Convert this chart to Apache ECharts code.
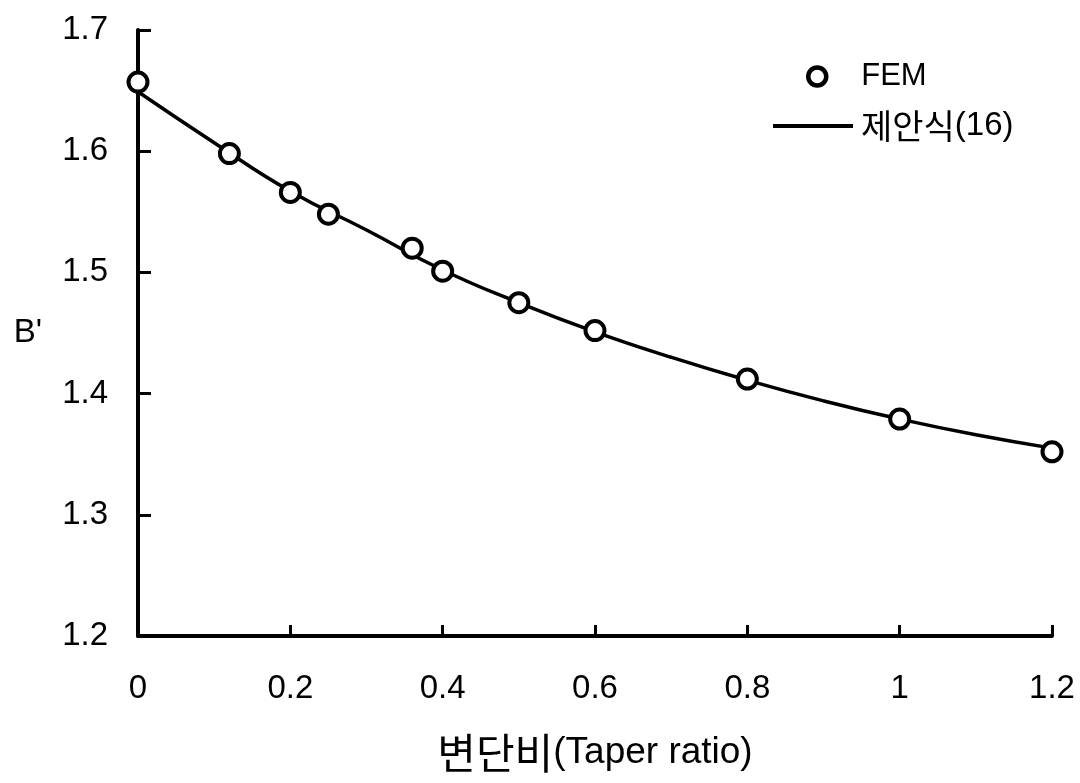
<!DOCTYPE html>
<html>
<head>
<meta charset="utf-8">
<title>B' vs Taper ratio</title>
<script src="https://cdn.jsdelivr.net/npm/echarts@6/dist/echarts.min.js"></script>
<style>
  html, body { margin: 0; padding: 0; background: #fff; }
  #main { width: 1080px; height: 783px; }
</style>
</head>
<body>
<div id="main"></div>
<script type="text/javascript">
// FEM results
var femTaper = [0, 0.12, 0.2, 0.25, 0.36, 0.4, 0.5, 0.6, 0.8, 1.0, 1.2];
var femB = [1.657, 1.598, 1.566, 1.548, 1.520, 1.501, 1.475, 1.452, 1.412, 1.379, 1.352];

// proposed equation (16), sampled along the drawn curve
var eqTaper = [0, 0.1, 0.2, 0.3, 0.4, 0.5, 0.6, 0.7, 0.8, 0.9, 1.0, 1.1, 1.2];
var eqB = [1.649, 1.607, 1.567, 1.535, 1.502, 1.475, 1.451, 1.430, 1.411, 1.394, 1.379, 1.366, 1.355];

var fontFam = "'Liberation Sans', Arial, 'Noto Sans CJK KR', sans-serif";
var krFam = "'Noto Sans CJK KR', sans-serif";

var myChart = echarts.init(document.getElementById('main'));

var option = {
  animation: false,
  backgroundColor: '#fff',
  textStyle: { fontFamily: fontFam, color: '#000' },
  grid: { left: 138, right: 28, top: 30, bottom: 147 },
  legend: [{
    data: ['FEM'],
    left: 801,
    top: 56,
    icon: 'circle',
    itemWidth: 18,
    itemHeight: 18,
    itemStyle: { color: '#fff', borderColor: '#000', borderWidth: 4.5 },
    textStyle: { fontSize: 31, fontFamily: fontFam, color: '#000', padding: [0, 0, 0, 30] }
  }, {
    data: ['제안식(16)'],
    left: 768,
    top: 104,
    icon: 'rect',
    itemWidth: 80,
    itemHeight: 4,
    itemStyle: { color: '#000', borderWidth: 0 },
    lineStyle: { width: 0 },
    formatter: function () { return '{k|제안식}{l|(16)}'; },
    textStyle: {
      color: '#000', padding: [0, 0, 0, 3],
      rich: {
        k: { fontSize: 34, fontFamily: krFam, color: '#000' },
        l: { fontSize: 33, fontFamily: fontFam, color: '#000' }
      }
    }
  }],
  xAxis: {
    type: 'value',
    min: 0,
    max: 1.2,
    interval: 0.2,
    name: '{k|변단비}{l|(Taper ratio)}',
    nameLocation: 'middle',
    nameGap: 96,
    nameTextStyle: {
      color: '#000',
      rich: {
        k: { fontSize: 42, fontFamily: krFam, color: '#000' },
        l: { fontSize: 37, fontFamily: fontFam, color: '#000' }
      }
    },
    axisLine: { show: true, lineStyle: { color: '#000', width: 4 } },
    axisTick: { show: true, inside: true, length: 11, lineStyle: { color: '#000', width: 3 } },
    axisLabel: { fontSize: 33, color: '#000', margin: 36, fontFamily: fontFam },
    splitLine: { show: false }
  },
  yAxis: {
    type: 'value',
    min: 1.2,
    max: 1.7,
    interval: 0.1,
    name: "B'",
    nameLocation: 'middle',
    nameRotate: 0,
    nameGap: 96,
    nameTextStyle: { fontSize: 33, fontFamily: fontFam, color: '#000' },
    axisLine: { show: true, lineStyle: { color: '#000', width: 4 } },
    axisTick: { show: true, inside: true, length: 13, lineStyle: { color: '#000', width: 3 } },
    axisLabel: { fontSize: 33, color: '#000', margin: 30, fontFamily: fontFam,
      formatter: function (v) { return v.toFixed(1); } },
    splitLine: { show: false }
  },
  series: [{
    name: '제안식(16)',
    type: 'line',
    smooth: true,
    showSymbol: false,
    data: eqTaper.map(function (t, i) { return [t, eqB[i]]; }),
    lineStyle: { color: '#000', width: 3.5 },
    itemStyle: { color: '#000' },
    z: 2
  }, {
    name: 'FEM',
    type: 'scatter',
    symbol: 'circle',
    symbolSize: 19,
    data: femTaper.map(function (t, i) { return [t, femB[i]]; }),
    itemStyle: { color: '#fff', borderColor: '#000', borderWidth: 4, opacity: 1 },
    z: 3
  }]
};

myChart.setOption(option);
</script>
</body>
</html>
